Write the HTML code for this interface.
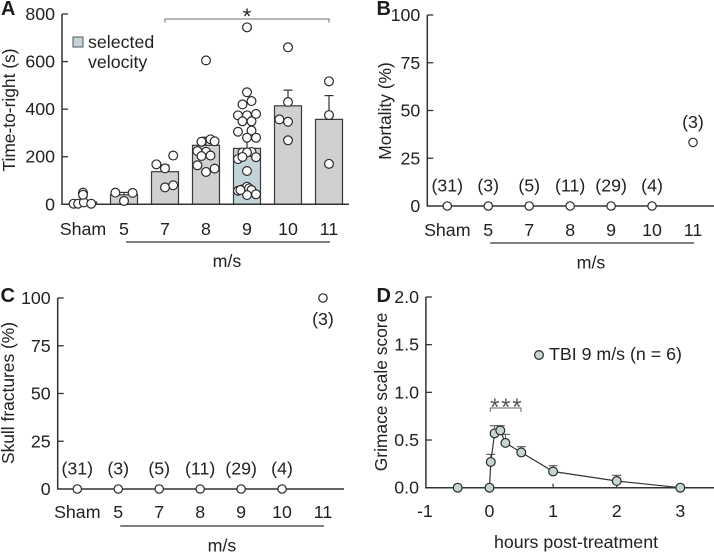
<!DOCTYPE html>
<html lang="en">
<head>
<meta charset="utf-8">
<title>Multi-panel TBI chart</title>
<style>
html,body{margin:0;padding:0;background:#fff;}
svg{display:block;}
text{font-family:"Liberation Sans",Arial,sans-serif;fill:#222;font-size:17.8px;}
.letter{font-weight:bold;font-size:20px;fill:#1c1c1c;stroke:#fff;stroke-width:2.5px;paint-order:stroke;}
</style>
</head>
<body>
<svg id="figure" xmlns="http://www.w3.org/2000/svg" width="714" height="553" viewBox="0 0 714 553">
  <g id="panel-a"></g>
  <g id="panel-b"></g>
  <g id="panel-c"></g>
  <g id="panel-d"></g>
</svg>
<script>
// ---- data ----
const categories = ['Sham', '5', '7', '8', '9', '10', '11'];
const barMeans = [10, 40, 137, 248, 235, 414, 357];
const barErrorTops = [30, 50, 165, 282, 275, 480, 457];
const sham = [2.5, 2.5, 8, 2.5, 49, 40];
const v5 = [49, 48, 14];
const v7 = [168, 151, 205, 71, 80];
const v8 = [605, 263, 273, 265, 224, 221, 203, 205, 164, 150, 136];
const v9 = [744, 471, 434, 420, 374, 374, 380, 349, 349, 305, 310, 280, 280, 218, 220, 218, 190, 199, 198, 140, 57, 63, 74, 67, 60, 39, 42, 60];
const v10 = [660, 430, 357, 347, 269];
const v11 = [517, 375, 170];
const swarmValues = [sham, v5, v7, v8, v9, v10, v11];
const swarmJitter = [
  [-0.23, -0.12, 0.02, 0.2, 0, 0],
  [-0.21, 0.21, 0],
  [-0.21, 0, 0.2, 0, 0.2],
  [0, -0.11, 0.11, 0.21, -0.21, 0, -0.11, 0.11, -0.21, 0.21, 0],
  [0, 0, 0.11, -0.11, -0.22, 0, 0.22, -0.11, 0.11, -0.22, 0.11, 0, 0.22, -0.11, 0.11, 0, -0.22, -0.11, 0.22, 0, -0.22, -0.11, 0, 0.05, 0.11, 0, 0.22, -0.16],
  [0, 0, -0.21, 0, 0],
  [0, 0, 0]
];
const yTicksA = [0, 200, 400, 600, 800];
const yTicksPct = [0, 25, 50, 75, 100];
const mortality = [0, 0, 0, 0, 0, 0, 33.3];
const fractures = [0, 0, 0, 0, 0, 0, 100];
const groupSizes = ['(31)', '(3)', '(5)', '(11)', '(29)', '(4)', '(3)'];
const hours = [-0.5, 0, 0.02, 0.08, 0.17, 0.25, 0.5, 1, 2, 3];
const grimace = [0, 0, 0.27, 0.57, 0.6, 0.47, 0.37, 0.17, 0.07, 0];
const grimaceErrorTops = [0, 0, 0.35, 0.65, 0.65, 0.56, 0.43, 0.23, 0.13, 0];
const yTicksD = ['0.0', '0.5', '1.0', '1.5', '2.0'];
const xTicksD = [-1, 0, 1, 2, 3];

// ---- helpers ----
const NS = 'http://www.w3.org/2000/svg';
function make(parent, tag, props, txt) {
  const e = document.createElementNS(NS, tag);
  for (const k in props) e.setAttribute(k, props[k]);
  if (txt !== undefined) e.textContent = txt;
  parent.appendChild(e);
  return e;
}
function line(parent, x1, y1, x2, y2, color, w, name) {
  const el = make(parent, 'line', {x1: x1, y1: y1, x2: x2, y2: y2, stroke: color, 'stroke-width': w});
  
  
  return el;
}
function label(parent, x, y, txt, anchor, name, extra) {
  const el = make(parent, 'text', Object.assign({x: x, y: y, 'text-anchor': anchor}, extra || {}), txt);
  
  
  return el;
}
function dot(parent, x, y, r, fill, name) {
  const el = make(parent, 'circle', {cx: x, cy: y, r: r, fill: fill, stroke: '#2a2a2a', 'stroke-width': 1.2});
  
  
  return el;
}
function linear(d0, d1, r0, r1) {
  return function (v) { return r0 + (v - d0) * (r1 - r0) / (d1 - d0); };
}
function yTitle(parent, x, y, txt, name) {
  label(parent, 0, 0, txt, 'middle', name, {transform: 'translate(' + x + ' ' + y + ') rotate(-90)', style: 'font-size:17.4px'});
}
function panelLetter(parent, x, y, txt) {
  const el = make(parent, 'text', {x: x, y: y, class: 'letter'}, txt);
  
  
}
const AXIS = '#333';

// ---- shared category frame (panels A, B, C) ----
function categoryFrame(g, o) {
  line(g, o.axisX, o.y1, o.axisX, o.y0, AXIS, 1.5, 'y-axis');
  line(g, o.axisX - 0.7, o.y0, o.xEnd, o.y0, AXIS, 1.5, 'x-axis');
  o.ticks.forEach(function (t) {
    const y = o.yScale(t);
    if (t !== o.ticks[0]) line(g, o.axisX, y, o.axisX + 6, y, AXIS, 1.3, 'y-tick');
    label(g, o.axisX - 7, y + 6, String(t), 'end', 'y-tick-label');
  });
  categories.forEach(function (c, i) {
    label(g, o.xScale(i), o.catBase, c, 'middle', 'x-category-label');
  });
  line(g, o.xScale(1) + 2, o.ruleY, o.xScale(6) + 1, o.ruleY, '#333', 1.3, 'velocity-group-rule');
  label(g, o.unitX, o.unitBase, 'm/s', 'middle', 'x-axis-title');
}

// ---- Panel A ----
(function () {
  const g = document.getElementById('panel-a');
  const x = linear(0, 6, 83, 329);
  const y = linear(0, 800, 204.3, 14);
  const barW = 27;
  categories.forEach(function (c, i) {
    const top = y(barMeans[i]);
    const r = make(g, 'rect', {
      x: x(i) - barW / 2, y: top, width: barW, height: y(0) - top,
      fill: i === 4 ? '#c2d4d9' : '#d0d0d0', stroke: '#3a3a3a', 'stroke-width': 1.2
    });
    
    
    line(g, x(i), top, x(i), y(barErrorTops[i]), '#333', 1.2, 'error-bar-stem');
    line(g, x(i) - 4.5, y(barErrorTops[i]), x(i) + 4.5, y(barErrorTops[i]), '#333', 1.2, 'error-bar-cap');
  });
  categoryFrame(g, {
    axisX: 62, y0: 204.3, y1: 14, xEnd: 349, ticks: yTicksA, yScale: y, xScale: x,
    catBase: 235, ruleY: 242, unitX: 227, unitBase: 267
  });
  swarmValues.forEach(function (vals, i) {
    vals.forEach(function (v, j) {
      dot(g, x(i + swarmJitter[i][j]), y(v), 4.4, '#fff', 'data-point-' + categories[i].toLowerCase());
    });
  });
  yTitle(g, 15, 110, 'Time-to-right (s)', 'y-axis-title');
  panelLetter(g, 1, 15, 'A');
  const swatch = make(g, 'rect', {x: 73, y: 37, width: 10, height: 10, fill: '#c2d4d9', stroke: '#555', 'stroke-width': 1});
  
  
  label(g, 88, 48, 'selected', 'start', 'legend-label-line-1');
  label(g, 88, 68, 'velocity', 'start', 'legend-label-line-2');
  line(g, x(2), 19, x(6), 19, '#8a8a8a', 1.3, 'significance-bracket');
  line(g, x(2), 18.5, x(2), 22.5, '#8a8a8a', 1.3, 'significance-bracket-tip');
  line(g, x(6), 18.5, x(6), 22.5, '#8a8a8a', 1.3, 'significance-bracket-tip');
  label(g, 247, 24, '*', 'middle', 'significance-star', {style: 'font-size:22px'});
})();

// ---- Panels B, C ----
function pctPanel(id, values, o) {
  const g = document.getElementById(id);
  const x = linear(0, 6, o.x0, o.x6);
  const y = linear(0, 100, o.y0, o.y1);
  categoryFrame(g, {
    axisX: o.axisX, y0: o.y0, y1: o.y1, xEnd: o.xEnd, ticks: yTicksPct, yScale: y, xScale: x,
    catBase: o.catBase, ruleY: o.ruleY, unitX: o.unitX, unitBase: o.unitBase
  });
  values.forEach(function (v, i) {
    dot(g, x(i), y(v), 4.2, '#fff', 'data-point-' + categories[i].toLowerCase());
    label(g, x(i), v >= 100 ? y(v) + 27 : y(v) - 14.5, groupSizes[i], 'middle', 'group-size-label');
  });
  yTitle(g, o.titleX, o.titleY, o.title, 'y-axis-title');
  panelLetter(g, o.letterX, o.letterY, o.letter);
}
pctPanel('panel-b', mortality, {
  axisX: 427.3, y0: 206, y1: 15, xEnd: 714, x0: 447.3, x6: 693, catBase: 236, ruleY: 243,
  unitX: 591, unitBase: 268.5, titleX: 391, titleY: 111, title: 'Mortality (%)',
  letterX: 376.5, letterY: 15, letter: 'B'
});
pctPanel('panel-c', fractures, {
  axisX: 57.7, y0: 489, y1: 298, xEnd: 344, x0: 77.3, x6: 323, catBase: 518, ruleY: 526,
  unitX: 222, unitBase: 551.5, titleX: 14, titleY: 393, title: 'Skull fractures (%)',
  letterX: 0.5, letterY: 302, letter: 'C'
});

// ---- Panel D ----
(function () {
  const g = document.getElementById('panel-d');
  const x = linear(0, 3, 489.5, 680.3);
  const y = linear(0, 2, 487.7, 297);
  line(g, x(-1), 297, x(-1), y(0), AXIS, 1.5, 'y-axis');
  line(g, x(-1) - 0.7, y(0), 714, y(0), AXIS, 1.5, 'x-axis');
  yTicksD.forEach(function (t) {
    const py = y(parseFloat(t));
    if (t !== '0.0') line(g, x(-1), py, x(-1) + 6, py, AXIS, 1.3, 'y-tick');
    label(g, 419, py + 6, t, 'end', 'y-tick-label');
  });
  xTicksD.forEach(function (t) {
    if (t !== -1) line(g, x(t), y(0), x(t), y(0) - 4, AXIS, 1.2, 'x-tick');
    label(g, x(t) + (t === -1 ? -1 : 0), 517, String(t), 'middle', 'x-tick-label');
  });
  hours.forEach(function (h, i) {
    if (grimaceErrorTops[i] > grimace[i]) {
      line(g, x(h), y(grimace[i]), x(h), y(grimaceErrorTops[i]), '#555', 1, 'error-bar-stem');
      line(g, x(h) - 4.5, y(grimaceErrorTops[i]), x(h) + 4.5, y(grimaceErrorTops[i]), '#555', 1.1, 'error-bar-cap');
    }
  });
  const pts = hours.slice(1).map(function (h, i) { return x(h) + ',' + y(grimace[i + 1]); }).join(' ');
  const series = make(g, 'polyline', {points: pts, fill: 'none', stroke: '#333', 'stroke-width': 1.2});
  
  
  hours.forEach(function (h, i) {
    dot(g, x(h), y(grimace[i]), 4.4, '#c5d4d4', 'grimace-point');
  });
  dot(g, 539, 355, 4.4, '#c5d4d4', 'legend-marker');
  label(g, 549, 360, 'TBI 9 m/s (n = 6)', 'start', 'legend-label');
  line(g, 490.3, 408, 521, 408, '#666', 1, 'significance-bracket');
  line(g, 490.3, 407.5, 490.3, 412, '#666', 1, 'significance-bracket-tip');
  line(g, 521, 407.5, 521, 412, '#666', 1, 'significance-bracket-tip');
  label(g, 506.7, 415, '***', 'middle', 'significance-stars', {style: 'font-size:24px;letter-spacing:1.7px;fill:#555'});
  yTitle(g, 387, 392, 'Grimace scale score', 'y-axis-title');
  label(g, 576, 548, 'hours post-treatment', 'middle', 'x-axis-title');
  panelLetter(g, 376.5, 302, 'D');
})();
</script>
</body>
</html>
